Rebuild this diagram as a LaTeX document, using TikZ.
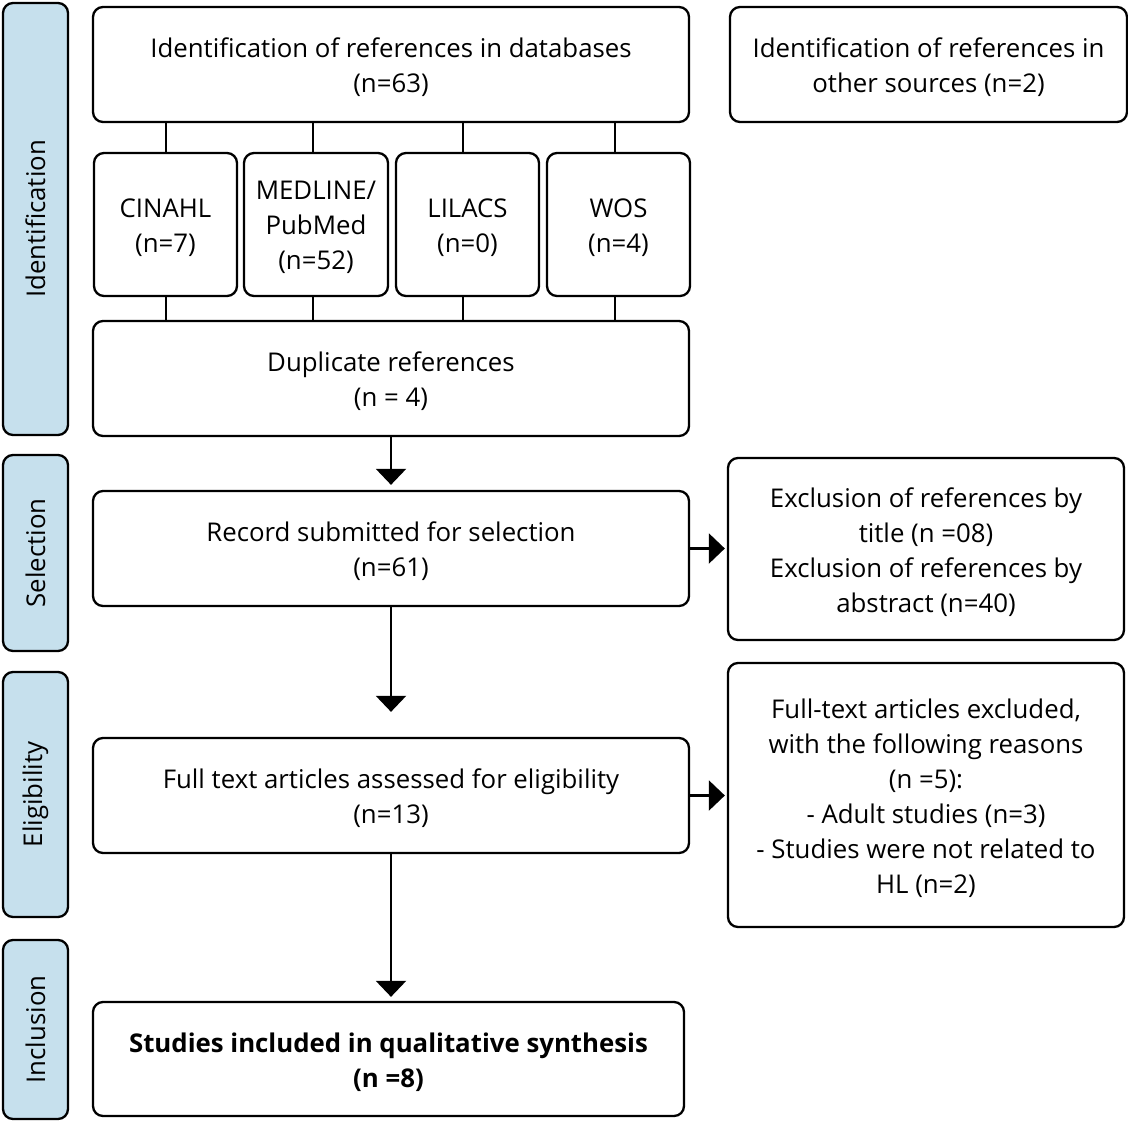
\documentclass[tikz,border=0pt]{standalone}
\usepackage{fontspec}
\setmainfont{Open Sans}
\usetikzlibrary{arrows.meta,calc}
\definecolor{sidefill}{RGB}{198,224,237}
\begin{document}
\begin{tikzpicture}[x=1pt,y=-1pt,
  every node/.style={font=\fontsize{25.8}{35}\selectfont},
  box/.style={draw, rounded corners=10pt, line width=2.3pt, inner sep=0pt},
  txt/.style={label={[align=center, inner sep=0pt, yshift=-3pt]center:{#1}}},
  side/.style={box, fill=sidefill, minimum width=65pt},
  conn/.style={line width=2.3pt},
  arr/.style={line width=2.3pt, -{Triangle[length=16pt,width=30pt]}}]
\useasboundingbox (0,0) rectangle (1128,1122);
% side bars
\node[side, minimum height=432pt] (sid) at (35.5,219) {};
\node[rotate=90] (tid) at (sid.center) {Identification};
\node[side, minimum height=196pt] (ssel) at (35.5,553) {};
\node[rotate=90] (tsel) at (ssel.center) {Selection};
\node[side, minimum height=245pt] (seli) at (35.5,794.5) {};
\node[rotate=90] (teli) at (seli.center) {Eligibility};
\node[side, minimum height=179pt] (sinc) at (35.5,1029.5) {};
\node[rotate=90] (tinc) at (sinc.center) {Inclusion};
% boxes
\node[box, minimum width=596pt, minimum height=115pt, txt={Identification of references in databases\\(n=63)}] (db) at (391,64.5) {};
\node[box, minimum width=397pt, minimum height=115pt, txt={Identification of references in\\other sources (n=2)}] (oth) at (928.5,64.5) {};
\node[box, minimum width=143pt, minimum height=143pt, txt={CINAHL\\(n=7)}] (cin) at (165.5,224.5) {};
\node[box, minimum width=144pt, minimum height=143pt, txt={MEDLINE/\\PubMed\\(n=52)}] (med) at (316,224.5) {};
\node[box, minimum width=143pt, minimum height=143pt, txt={LILACS\\(n=0)}] (lil) at (467.5,224.5) {};
\node[box, minimum width=143pt, minimum height=143pt, txt={WOS\\(n=4)}] (wos) at (618.5,224.5) {};
\node[box, minimum width=596pt, minimum height=115pt, txt={Duplicate references\\(n = 4)}] (dup) at (391,378.5) {};
\node[box, minimum width=596pt, minimum height=115pt, txt={Record submitted for selection\\(n=61)}] (rec) at (391,548.5) {};
\node[box, minimum width=396pt, minimum height=182pt, txt={Exclusion of references by\\title (n =08)\\Exclusion of references by\\abstract (n=40)}] (exc) at (926,549) {};
\node[box, minimum width=596pt, minimum height=115pt, txt={Full text articles assessed for eligibility\\(n=13)}] (ft) at (391,795.5) {};
\node[box, minimum width=396pt, minimum height=264pt, txt={Full-text articles excluded,\\with the following reasons\\(n =5):\\- Adult studies (n=3)\\- Studies were not related to\\HL (n=2)}] (fte) at (926,795) {};
\node[box, minimum width=591pt, minimum height=114pt, txt={\textbf{Studies included in qualitative synthesis}\\\textbf{(n =8)}}] (inc) at (388.5,1059) {};
% connectors
\foreach \n/\s in {cin/0.5, med/-3, lil/-4.5, wos/-3.5} {
  \draw[conn] ([xshift=\s pt]\n.north) -- ([xshift=\s pt]\n.north |- db.south);
  \draw[conn] ([xshift=\s pt]\n.south) -- ([xshift=\s pt]\n.south |- dup.north);
}
\draw[arr, shorten >=5pt] (dup.south) -- (rec.north);
\draw[arr, shorten >=25pt] (rec.south) -- (ft.north);
\draw[arr, shorten >=4pt] (ft.south) -- (ft.south |- inc.north);
\draw[arr, shorten >=2pt] (rec.east) -- (rec.east -| exc.west);
\draw[arr, shorten >=2pt] (ft.east) -- (ft.east -| fte.west);
\end{tikzpicture}
\end{document}
